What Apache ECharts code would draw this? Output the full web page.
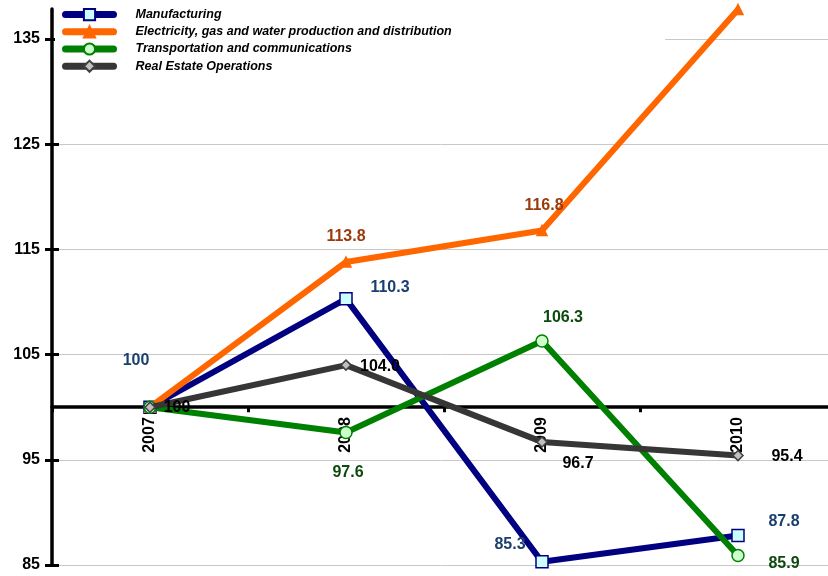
<!DOCTYPE html>
<html>
<head>
<meta charset="utf-8">
<script src="https://cdn.jsdelivr.net/npm/echarts@6/dist/echarts.min.js"></script>
<style>
  html, body { margin: 0; padding: 0; background: #fff; }
  #chart { width: 828px; height: 576px; }
</style>
</head>
<body>
<div id="chart"></div>
<script>
// Index values by year (2007 = 100)
const years = ['2007', '2008', '2009', '2010'];
const manufacturing = [100, 110.3, 85.3, 87.8];
const electricity = [100, 113.8, 116.8, 137.8];
const transport = [100, 97.6, 106.3, 85.9];
const realEstate = [100, 104.0, 96.7, 95.4];
const seriesNames = [
  'Manufacturing',
  'Electricity, gas and water production and distribution',
  'Transportation and communications',
  'Real Estate Operations'
];
const yTicks = [85, 95, 105, 115, 125, 135];

// Axis range and the level where the category axis crosses
const Y_MIN = 85, Y_MAX = 137.85, BASE = 100;
const GRID = { left: 52, top: 9, bottom: 11, width: 784, outerBoundsMode: 'none', containLabel: false };
const plotH = 576 - GRID.top - GRID.bottom;
const xAxisOffset = -plotH * (BASE - Y_MIN) / (Y_MAX - Y_MIN);

// Label placement per point: [dx, dy] from the point, or null for no label
const labelOffsets = [
  [[-14, -47], [44, -11], [-32, -17], [46, -14]],
  [null, [0, -25], [2, -25], null],
  [null, [2, 40], [21, -23], [46, 8]],
  [[27, 0], [34, 1], [36, 22], [49, 1]]
];
const labelColors = ['#1b3f6c', '#9a3a0c', '#0d4a0d', '#000000'];

function buildData(values, idx) {
  return values.map((v, i) => {
    const off = labelOffsets[idx][i];
    return {
      value: v,
      label: off ? {
        show: true, position: 'inside', offset: off,
        formatter: v === 100 ? '100' : v.toFixed(1)
      } : { show: false }
    };
  });
}

const styles = [
  { color: '#000080', symbol: 'rect', size: 12, fill: '#ccffff', border: '#000080' },
  { color: '#ff6600', symbol: 'triangle', size: 10, fill: '#ff6600', border: '#ff6600' },
  { color: '#008000', symbol: 'circle', size: 12, fill: '#ccffcc', border: '#008000' },
  { color: '#363636', symbol: 'diamond', size: 10, fill: '#c0c0c0', border: '#404040' }
];
const allValues = [manufacturing, electricity, transport, realEstate];

const series = allValues.map((vals, i) => ({
  name: seriesNames[i],
  type: 'line',
  data: buildData(vals, i),
  symbol: styles[i].symbol,
  symbolSize: styles[i].size,
  showAllSymbol: true,
  lineStyle: { color: styles[i].color, width: 6 },
  itemStyle: { color: styles[i].fill, borderColor: styles[i].border, borderWidth: 1.5 },
  label: {
    color: labelColors[i], fontSize: 16, fontWeight: 'bold',
    fontFamily: 'Liberation Sans, Arial, sans-serif'
  },
  emphasis: { disabled: true },
  z: 3 + i
}));

const chart = echarts.init(document.getElementById('chart'), null, { renderer: 'canvas' });
chart.setOption({
  animation: false,
  backgroundColor: '#ffffff',
  grid: GRID,
  graphic: [{
    type: 'rect', shape: { x: 55, y: 0, width: 610, height: 76 },
    style: { fill: '#ffffff' }, z: 1, silent: true
  }],
  legend: {
    orient: 'vertical', left: 57, top: 3, itemGap: 4,
    itemWidth: 48, itemHeight: 14,
    data: seriesNames,
    textStyle: {
      fontSize: 12.5, fontWeight: 'bold', fontStyle: 'italic', color: '#000',
      fontFamily: 'Liberation Sans, Arial, sans-serif',
      padding: [0, 0, 0, 17]
    },
    lineStyle: { width: 7, cap: 'round' },
    z: 10
  },
  xAxis: {
    type: 'category', data: years, boundaryGap: true,
    offset: xAxisOffset,
    axisLine: { lineStyle: { color: '#000', width: 3.5 } },
    axisTick: { show: true, length: 5, lineStyle: { color: '#000', width: 3 } },
    axisLabel: {
      rotate: 90, margin: 10, color: '#000', fontSize: 16, fontWeight: 'bold',
      fontFamily: 'Liberation Sans, Arial, sans-serif'
    },
    splitLine: { show: false }
  },
  yAxis: [{
    type: 'value', min: Y_MIN, max: Y_MAX, interval: 10,
    axisLine: { show: true, lineStyle: { color: '#000', width: 3.5 } },
    axisTick: { show: false },
    axisLabel: {
      color: '#000', fontSize: 16, fontWeight: 'bold', margin: 12,
      fontFamily: 'Liberation Sans, Arial, sans-serif', customValues: yTicks
    },
    splitLine: { show: true, showMaxLine: false, lineStyle: { color: '#c8c8c8', width: 1 } }
  }, {
    // tick marks crossing the value axis line
    type: 'value', position: 'left', offset: -7, min: Y_MIN, max: Y_MAX, interval: 10,
    axisLine: { show: false },
    axisTick: { show: true, length: 14, lineStyle: { color: '#000', width: 3 }, customValues: yTicks },
    axisLabel: { show: false },
    splitLine: { show: false }
  }],
  series: series
});
</script>
</body>
</html>
